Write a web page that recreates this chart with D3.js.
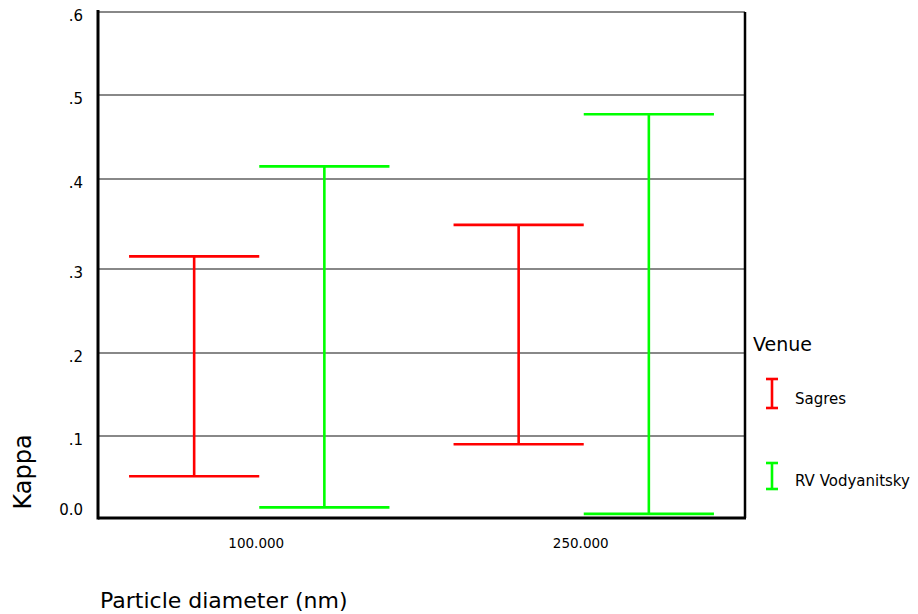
<!DOCTYPE html>
<html>
<head>
<meta charset="utf-8">
<script src="https://cdn.jsdelivr.net/npm/d3@7"></script>
<style>
  html, body { margin: 0; padding: 0; background: #fff; }
  svg { display: block; font-family: "DejaVu Sans", sans-serif; }
</style>
</head>
<body>
<svg id="chart" width="918" height="614"></svg>
<script>
// Particle diameter categories and the two sampling venues
const diameters = ["100.000", "250.000"];
const venues = ["Sagres", "RV Vodyanitsky"];
const venueColors = ["#ff0000", "#00ff00"];

// Kappa range (low, high) per venue, one entry per diameter
const sagresLow = [0.051, 0.090];
const sagresHigh = [0.314, 0.349];
const vodyanitskyLow = [0.013, 0.005];
const vodyanitskyHigh = [0.415, 0.477];

// Y axis ticks and their labels
const yTicks = [0, 0.1, 0.2, 0.3, 0.4, 0.5, 0.6];
const yTickLabels = ["0.0", ".1", ".2", ".3", ".4", ".5", ".6"];

(function () {
  const lows = [sagresLow, vodyanitskyLow];
  const highs = [sagresHigh, vodyanitskyHigh];
  const bars = [];
  venues.forEach((v, vi) => {
    diameters.forEach((d, di) => {
      bars.push({ venue: v, diameter: d, low: lows[vi][di], high: highs[vi][di], color: venueColors[vi] });
    });
  });

  const svg = d3.select("#chart");
  const plotLeft = 98, plotRight = 745, plotTop = 12, plotBottom = 518;

  const x = d3.scaleBand().domain(diameters).range([plotLeft, plotRight])
    .paddingInner(0.1975).paddingOuter(0.0957);
  const xInner = d3.scaleBand().domain(venues).range([0, x.bandwidth()]);
  const y = d3.scaleLinear().domain(yTicks).range([518, 436, 353, 269, 179, 95, 12]);

  // horizontal grid lines
  svg.append("g").selectAll("line").data(yTicks.filter(t => t > 0)).join("line")
    .attr("x1", plotLeft).attr("x2", plotRight)
    .attr("y1", d => y(d)).attr("y2", d => y(d))
    .attr("stroke", "#888").attr("stroke-width", 2);

  // error bars: vertical stem with caps at both ends
  const g = svg.append("g");
  bars.forEach(b => {
    const x0 = x(b.diameter) + xInner(b.venue);
    const xc = x0 + xInner.bandwidth() / 2;
    const w = xInner.bandwidth();
    const s = g.append("g").attr("stroke", b.color).attr("stroke-width", 2.6);
    s.append("line").attr("x1", xc).attr("x2", xc).attr("y1", y(b.high)).attr("y2", y(b.low));
    s.append("line").attr("x1", x0).attr("x2", x0 + w).attr("y1", y(b.high)).attr("y2", y(b.high));
    s.append("line").attr("x1", x0).attr("x2", x0 + w).attr("y1", y(b.low)).attr("y2", y(b.low));
  });

  // frame: left axis, baseline, right border
  svg.append("line").attr("x1", plotLeft).attr("x2", plotLeft).attr("y1", plotTop - 2).attr("y2", plotBottom + 1.5)
    .attr("stroke", "#000").attr("stroke-width", 3);
  svg.append("line").attr("x1", plotLeft).attr("x2", plotRight + 1).attr("y1", plotBottom).attr("y2", plotBottom)
    .attr("stroke", "#000").attr("stroke-width", 3);
  svg.append("line").attr("x1", plotRight).attr("x2", plotRight).attr("y1", plotTop).attr("y2", plotBottom)
    .attr("stroke", "#000").attr("stroke-width", 2.5);

  // y tick labels (0.0 is lifted clear of the baseline)
  svg.append("g").selectAll("text").data(yTicks).join("text")
    .attr("x", 83)
    .attr("y", d => y(d) + (d === 0 ? -8 : 4))
    .attr("dy", "0.36em")
    .attr("text-anchor", "end")
    .attr("font-size", 15)
    .attr("fill", "#000")
    .text((d, i) => yTickLabels[i]);

  // x category labels
  svg.append("g").selectAll("text").data(diameters).join("text")
    .attr("x", d => x(d) + x.bandwidth() / 2 - 3)
    .attr("y", 543)
    .attr("dy", "0.36em")
    .attr("text-anchor", "middle")
    .attr("font-size", 13.5)
    .attr("fill", "#000")
    .text(d => d);

  // axis titles
  svg.append("text").attr("x", 100).attr("y", 608)
    .attr("font-size", 22).attr("fill", "#000")
    .text("Particle diameter (nm)");
  svg.append("text").attr("transform", "translate(31,472) rotate(-90)")
    .attr("text-anchor", "middle").attr("font-size", 24).attr("fill", "#000")
    .text("Kappa");

  // legend
  svg.append("text").attr("x", 753).attr("y", 344).attr("dy", "0.36em")
    .attr("font-size", 19).attr("fill", "#000").text("Venue");
  const legendY = [393.5, 476];
  const lg = svg.append("g").selectAll("g").data(venues).join("g")
    .attr("transform", (d, i) => `translate(772,${legendY[i]})`);
  lg.each(function (d, i) {
    const s = d3.select(this);
    const h = i === 0 ? 14.5 : 13;
    const col = venueColors[i];
    s.append("line").attr("x1", 0).attr("x2", 0).attr("y1", -h).attr("y2", h)
      .attr("stroke", col).attr("stroke-width", 2.6);
    s.append("line").attr("x1", -6).attr("x2", 6).attr("y1", -h).attr("y2", -h)
      .attr("stroke", col).attr("stroke-width", 2.6);
    s.append("line").attr("x1", -6).attr("x2", 6).attr("y1", h).attr("y2", h)
      .attr("stroke", col).attr("stroke-width", 2.6);
    s.append("text").attr("x", 23).attr("y", 5).attr("dy", "0.36em")
      .attr("font-size", 15).attr("fill", "#000").text(d);
  });
})();
</script>
</body>
</html>
